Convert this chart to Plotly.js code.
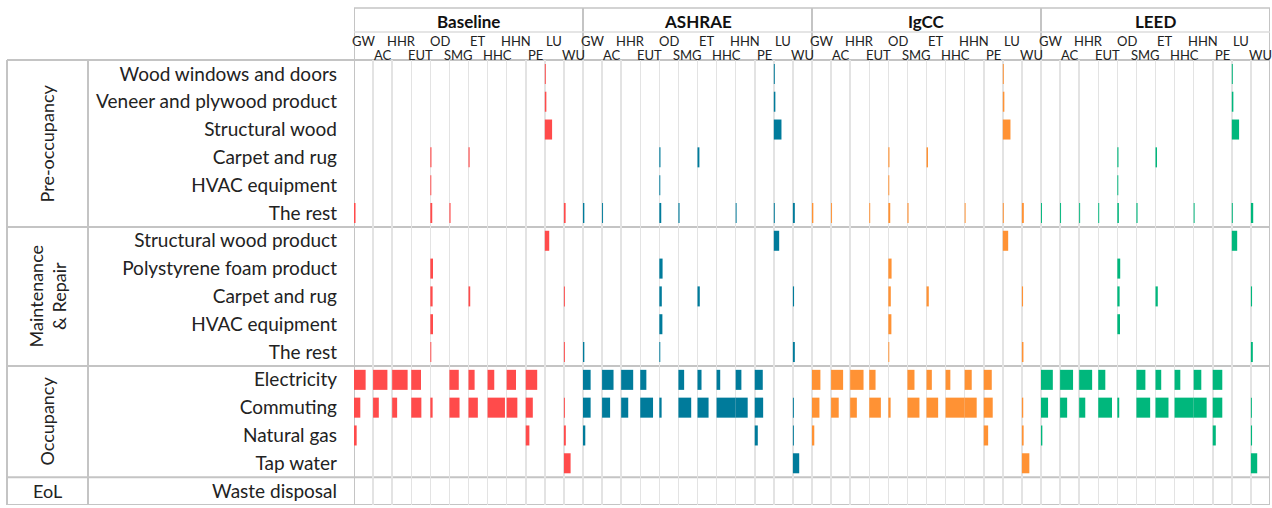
<!DOCTYPE html>
<html><head><meta charset="utf-8">
<script src="https://cdn.plot.ly/plotly-3.0.1.min.js"></script>
<style>html,body{margin:0;padding:0;background:#fff}#chart{width:1272px;height:508px}</style>
</head><body><div id="chart"></div>
<script>
const scenarios = ["Baseline", "ASHRAE", "IgCC", "LEED"];
const impactCategories = ["GW","AC","HHR","EUT","OD","SMG","ET","HHC","HHN","PE","LU","WU"];
const processes = ["Wood windows and doors","Veneer and plywood product","Structural wood","Carpet and rug","HVAC equipment","The rest",
  "Structural wood product","Polystyrene foam product","Carpet and rug","HVAC equipment","The rest",
  "Electricity","Commuting","Natural gas","Tap water","Waste disposal"];
const stages = ["Pre-occupancy", "Maintenance<br>& Repair", "Occupancy", "EoL"];
const stageRowCounts = [6, 5, 4, 1];
const scenarioColors = ["#ff4b4b", "#007b9b", "#ff9234", "#00b77c"];

// contribution share of each process per impact category (fraction of a cell width)
//          GW    AC    HHR   EUT   OD    SMG   ET    HHC   HHN   PE    LU    WU
const baseline = [
  [0,    0,    0,    0,    0,    0,    0,    0,    0,    0,    0.05, 0],
  [0,    0,    0,    0,    0,    0,    0,    0,    0,    0,    0.08, 0],
  [0,    0,    0,    0,    0,    0,    0,    0,    0,    0,    0.38, 0],
  [0,    0,    0,    0,    0.06, 0,    0.06, 0,    0,    0,    0,    0],
  [0,    0,    0,    0,    0.05, 0,    0,    0,    0,    0,    0,    0],
  [0.08, 0,    0,    0,    0.10, 0.06, 0,    0,    0,    0,    0,    0.09],
  [0,    0,    0,    0,    0,    0,    0,    0,    0,    0,    0.23, 0],
  [0,    0,    0,    0,    0.14, 0,    0,    0,    0,    0,    0,    0],
  [0,    0,    0,    0,    0.12, 0,    0.09, 0,    0,    0,    0,    0.05],
  [0,    0,    0,    0,    0.14, 0,    0,    0,    0,    0,    0,    0],
  [0,    0,    0,    0,    0.05, 0,    0,    0,    0,    0,    0,    0.05],
  [0.61, 0.75, 0.81, 0.51, 0,    0.49, 0.32, 0.35, 0.49, 0.60, 0,    0],
  [0.33, 0.30, 0.26, 0.53, 0.12, 0.53, 0.49, 0.91, 0.56, 0.37, 0,    0.05],
  [0.14, 0,    0,    0,    0,    0,    0,    0,    0,    0.19, 0,    0.10],
  [0,    0,    0,    0,    0,    0,    0,    0,    0,    0,    0,    0.35],
  [0,    0,    0,    0,    0,    0,    0,    0,    0,    0,    0,    0]
];
const ashrae = [
  [0,    0,    0,    0,    0,    0,    0,    0,    0,    0,    0.05, 0],
  [0,    0,    0,    0,    0,    0,    0,    0,    0,    0,    0.08, 0],
  [0,    0,    0,    0,    0,    0,    0,    0,    0,    0,    0.40, 0],
  [0,    0,    0,    0,    0.06, 0,    0.10, 0,    0,    0,    0,    0],
  [0,    0,    0,    0,    0.05, 0,    0,    0,    0,    0,    0,    0],
  [0.07, 0.05, 0,    0,    0.10, 0.06, 0,    0,    0.05, 0,    0.05, 0.10],
  [0,    0,    0,    0,    0,    0,    0,    0,    0,    0,    0.28, 0],
  [0,    0,    0,    0,    0.17, 0,    0,    0,    0,    0,    0,    0],
  [0,    0,    0,    0,    0.13, 0,    0.12, 0,    0,    0,    0,    0.06],
  [0,    0,    0,    0,    0.16, 0,    0,    0,    0,    0,    0,    0],
  [0.07, 0,    0,    0,    0.05, 0,    0,    0,    0,    0,    0,    0.10],
  [0.40, 0.60, 0.63, 0.32, 0,    0.30, 0.21, 0.19, 0.30, 0.42, 0,    0],
  [0.40, 0.42, 0.37, 0.67, 0.12, 0.67, 0.58, 1.00, 0.63, 0.44, 0,    0.05],
  [0.12, 0,    0,    0,    0,    0,    0,    0,    0,    0.16, 0,    0.05],
  [0,    0,    0,    0,    0,    0,    0,    0,    0,    0,    0,    0.33],
  [0,    0,    0,    0,    0,    0,    0,    0,    0,    0,    0,    0]
];
const igcc = [
  [0,    0,    0,    0,    0,    0,    0,    0,    0,    0,    0.05, 0],
  [0,    0,    0,    0,    0,    0,    0,    0,    0,    0,    0.08, 0],
  [0,    0,    0,    0,    0,    0,    0,    0,    0,    0,    0.40, 0],
  [0,    0,    0,    0,    0.06, 0,    0.08, 0,    0,    0,    0,    0],
  [0,    0,    0,    0,    0.05, 0,    0,    0,    0,    0,    0,    0],
  [0.07, 0.05, 0,    0.05, 0.10, 0.06, 0,    0,    0.05, 0,    0.05, 0.10],
  [0,    0,    0,    0,    0,    0,    0,    0,    0,    0,    0.28, 0],
  [0,    0,    0,    0,    0.17, 0,    0,    0,    0,    0,    0,    0],
  [0,    0,    0,    0,    0.13, 0,    0.12, 0,    0,    0,    0,    0.06],
  [0,    0,    0,    0,    0.16, 0,    0,    0,    0,    0,    0,    0],
  [0,    0,    0,    0,    0.05, 0,    0,    0,    0,    0,    0,    0.08],
  [0.44, 0.63, 0.70, 0.33, 0,    0.37, 0.28, 0.25, 0.37, 0.42, 0,    0],
  [0.39, 0.40, 0.35, 0.61, 0.12, 0.63, 0.61, 1.00, 0.63, 0.47, 0,    0.07],
  [0.12, 0,    0,    0,    0,    0,    0,    0,    0,    0.23, 0,    0.09],
  [0,    0,    0,    0,    0,    0,    0,    0,    0,    0,    0,    0.39],
  [0,    0,    0,    0,    0,    0,    0,    0,    0,    0,    0,    0]
];
const leed = [
  [0,    0,    0,    0,    0,    0,    0,    0,    0,    0,    0.05, 0],
  [0,    0,    0,    0,    0,    0,    0,    0,    0,    0,    0.08, 0],
  [0,    0,    0,    0,    0,    0,    0,    0,    0,    0,    0.38, 0],
  [0,    0,    0,    0,    0.06, 0,    0.08, 0,    0,    0,    0,    0],
  [0,    0,    0,    0,    0.05, 0,    0,    0,    0,    0,    0,    0],
  [0.05, 0.05, 0.05, 0.05, 0.08, 0.06, 0,    0,    0.05, 0,    0.05, 0.12],
  [0,    0,    0,    0,    0,    0,    0,    0,    0,    0,    0.28, 0],
  [0,    0,    0,    0,    0.15, 0,    0,    0,    0,    0,    0,    0],
  [0,    0,    0,    0,    0.12, 0,    0.12, 0,    0,    0,    0,    0.06],
  [0,    0,    0,    0,    0.14, 0,    0,    0,    0,    0,    0,    0],
  [0,    0,    0,    0,    0,    0,    0,    0,    0,    0,    0,    0.10],
  [0.62, 0.68, 0.68, 0.37, 0,    0.47, 0.30, 0.30, 0.40, 0.50, 0,    0],
  [0.37, 0.37, 0.32, 0.72, 0.10, 0.72, 0.68, 1.00, 0.68, 0.50, 0,    0.05],
  [0.07, 0,    0,    0,    0,    0,    0,    0,    0,    0.16, 0,    0.06],
  [0,    0,    0,    0,    0,    0,    0,    0,    0,    0,    0,    0.33],
  [0,    0,    0,    0,    0,    0,    0,    0,    0,    0,    0,    0]
];
const scenarioData = [baseline, ashrae, igcc, leed];

// ---- geometry helpers (layout only) ----
const W = 1272, H = 508, ML = 354, MR = 2, MT = 60, MB = 3;
const PW = W - ML - MR, PH = H - MT - MB;
const px = v => (v - ML) / PW;          // pixel x -> paper x
const py = v => (H - MB - v) / PH;      // pixel y -> paper y
const nCat = impactCategories.length;
const nRows = processes.length;
const FONT = 'Lato, sans-serif';

const traces = scenarios.map((name, s) => {
  const xs = [], bases = [], ys = [];
  scenarioData[s].forEach((row, r) => row.forEach((v, c) => {
    if (v > 0) { xs.push(v); bases.push(s * nCat + c); ys.push(r); }
  }));
  return {
    type: 'bar', orientation: 'h', name: name,
    x: xs, base: bases, y: ys, width: 0.72,
    marker: { color: scenarioColors[s], line: { width: 0 } },
    hovertemplate: name + '<extra></extra>'
  };
});

const border = '#c4c4c4';
const shapes = [];
const line = (o) => shapes.push(Object.assign({ type: 'line', layer: 'below', line: { color: border, width: 2 } }, o));
for (let s = 0; s <= scenarios.length; s++) {
  line({ xref: 'x', yref: 'paper', x0: s * nCat, x1: s * nCat, y0: 0, y1: py(8) });
}
line({ xref: 'x', yref: 'paper', x0: 0, x1: scenarios.length * nCat, y0: py(8), y1: py(8), line: { color: border, width: 1.5 } });
line({ xref: 'x', yref: 'paper', x0: 0, x1: scenarios.length * nCat, y0: py(32), y1: py(32), line: { color: '#dddddd', width: 1.5 } });
line({ xref: 'paper', yref: 'paper', x0: px(7), x1: 1, y0: 1, y1: 1 });
let acc = 0;
stageRowCounts.forEach(n => {
  acc += n;
  line({ xref: 'paper', yref: 'y', x0: px(7), x1: 1, y0: acc - 0.5, y1: acc - 0.5 });
});
line({ xref: 'paper', yref: 'paper', x0: px(7), x1: px(7), y0: 0, y1: 1 });
line({ xref: 'paper', yref: 'paper', x0: px(88), x1: px(88), y0: 0, y1: 1 });

const annotations = [];
scenarios.forEach((name, s) => {
  annotations.push({ xref: 'x', yref: 'paper', x: s * nCat + nCat / 2, y: py(21), text: '<b>' + name + '</b>',
    showarrow: false, xanchor: 'center', yanchor: 'middle', font: { family: FONT, size: 17, color: '#111' } });
  impactCategories.forEach((cat, c) => {
    annotations.push({ xref: 'x', yref: 'paper', x: s * nCat + c + 0.5, y: py(c % 2 === 0 ? 41 : 55), text: cat,
      showarrow: false, xanchor: 'center', yanchor: 'middle', borderpad: 0,
      font: { family: FONT, size: 13, color: '#222' } });
  });
});
acc = 0;
stages.forEach((st, i) => {
  const n = stageRowCounts[i];
  const mid = acc + (n - 1) / 2;
  acc += n;
  annotations.push({ xref: 'paper', yref: 'y', x: px(47), y: mid, text: st, showarrow: false,
    xanchor: 'center', yanchor: 'middle',
    textangle: n > 1 ? -90 : 0, font: { family: FONT, size: 18, color: '#222' } });
});

const layout = {
  width: W, height: H,
  margin: { l: ML, r: MR, t: MT, b: MB },
  paper_bgcolor: '#fff', plot_bgcolor: '#fff',
  showlegend: false, barmode: 'overlay',
  xaxis: { range: [0, scenarios.length * nCat], tick0: 0, dtick: 1, showgrid: true, gridcolor: '#e3e3e3', gridwidth: 1.5,
    showticklabels: false, zeroline: false, ticks: '', fixedrange: true },
  yaxis: { range: [nRows - 0.5, -0.5], tickmode: 'array', tickvals: processes.map((_, i) => i), ticktext: processes,
    showgrid: false, zeroline: false, ticks: '', ticklabelstandoff: 16,
    tickfont: { family: FONT, size: 19, color: '#222' }, fixedrange: true },
  shapes: shapes, annotations: annotations
};
Plotly.newPlot('chart', traces, layout, { displayModeBar: false, staticPlot: true });
</script></body></html>
